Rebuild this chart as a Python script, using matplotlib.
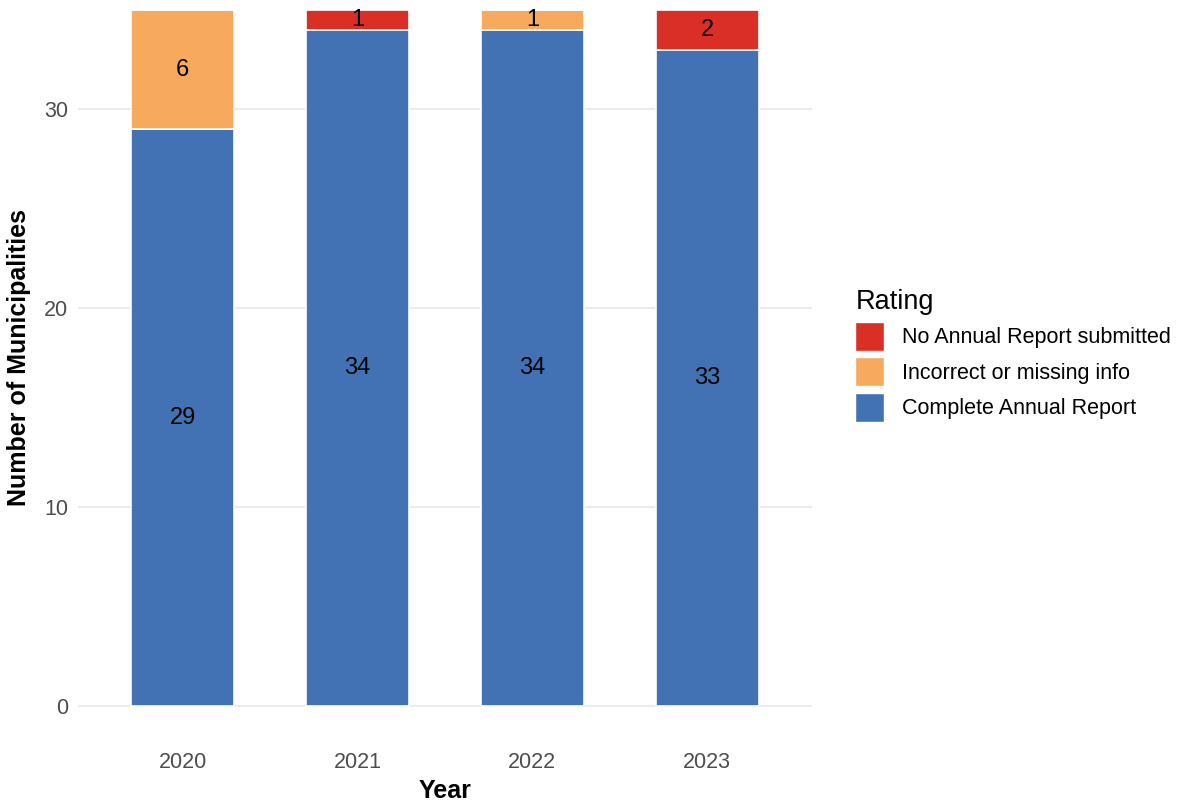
import numpy as np
import matplotlib
matplotlib.use('Agg')
from matplotlib import pyplot as plt
from matplotlib.patches import Patch

plt.rcParams['font.family'] = ['Liberation Sans', 'DejaVu Sans']

years = ['2020', '2021', '2022', '2023']
complete = [29, 34, 34, 33]
incorrect = [6, 0, 1, 0]
no_report = [0, 1, 0, 2]

ratings = ['No Annual Report submitted', 'Incorrect or missing info', 'Complete Annual Report']
colors = {'No Annual Report submitted': '#d92f26',
          'Incorrect or missing info': '#f7a95e',
          'Complete Annual Report': '#4272b3'}

fig = plt.figure(figsize=(11.8, 8.02), dpi=100)
# panel: top at y=35 (10px), 0 at 706px
ax = fig.add_axes([78 / 1180, 61 / 802, 734 / 1180, 731 / 802])

x = np.arange(len(years))
bottom = np.zeros(len(years))
for name, vals in [('Complete Annual Report', complete),
                   ('Incorrect or missing info', incorrect),
                   ('No Annual Report submitted', no_report)]:
    vals = np.array(vals)
    bars = ax.bar(x, vals, bottom=bottom, width=0.59, color=colors[name],
                  edgecolor='white', linewidth=1.2, zorder=2)
    labels = [str(v) if v > 0 else '' for v in vals]
    ax.bar_label(bars, labels=labels, label_type='center', fontsize=17, color='black')
    bottom += vals

ax.set_xlim(-0.6, 3.6)
ax.set_ylim(-1.75, 35)
ax.set_yticks([0, 10, 20, 30])
ax.set_xticks(x)
ax.set_xticklabels(years)
ax.tick_params(axis='both', length=0, labelsize=15.5, labelcolor='#4d4d4d')
ax.tick_params(axis='y', pad=7)
ax.tick_params(axis='x', pad=8)
ax.grid(axis='y', color='#ebebeb', linewidth=1.5, zorder=0)
ax.set_axisbelow(True)
for s in ax.spines.values():
    s.set_visible(False)

ax.set_xlabel('Year', fontsize=18, fontweight='bold')
ax.set_ylabel('Number of Municipalities', fontsize=18, fontweight='bold')
ax.xaxis.set_label_coords(0.5, -0.052)
ax.yaxis.set_label_coords(-0.064, 0.525)

handles = [Patch(facecolor=colors[r], edgecolor='white') for r in ratings]
leg = fig.legend(handles, ratings, title='Rating', loc='upper left',
                 bbox_to_anchor=(836 / 1180, 1 - 270 / 802), frameon=False,
                 fontsize=15.5, title_fontsize=19.5, handlelength=1.35, handleheight=1.7,
                 handletextpad=0.8, labelspacing=0.3, alignment='left')

fig.savefig('out.png', dpi=100)
